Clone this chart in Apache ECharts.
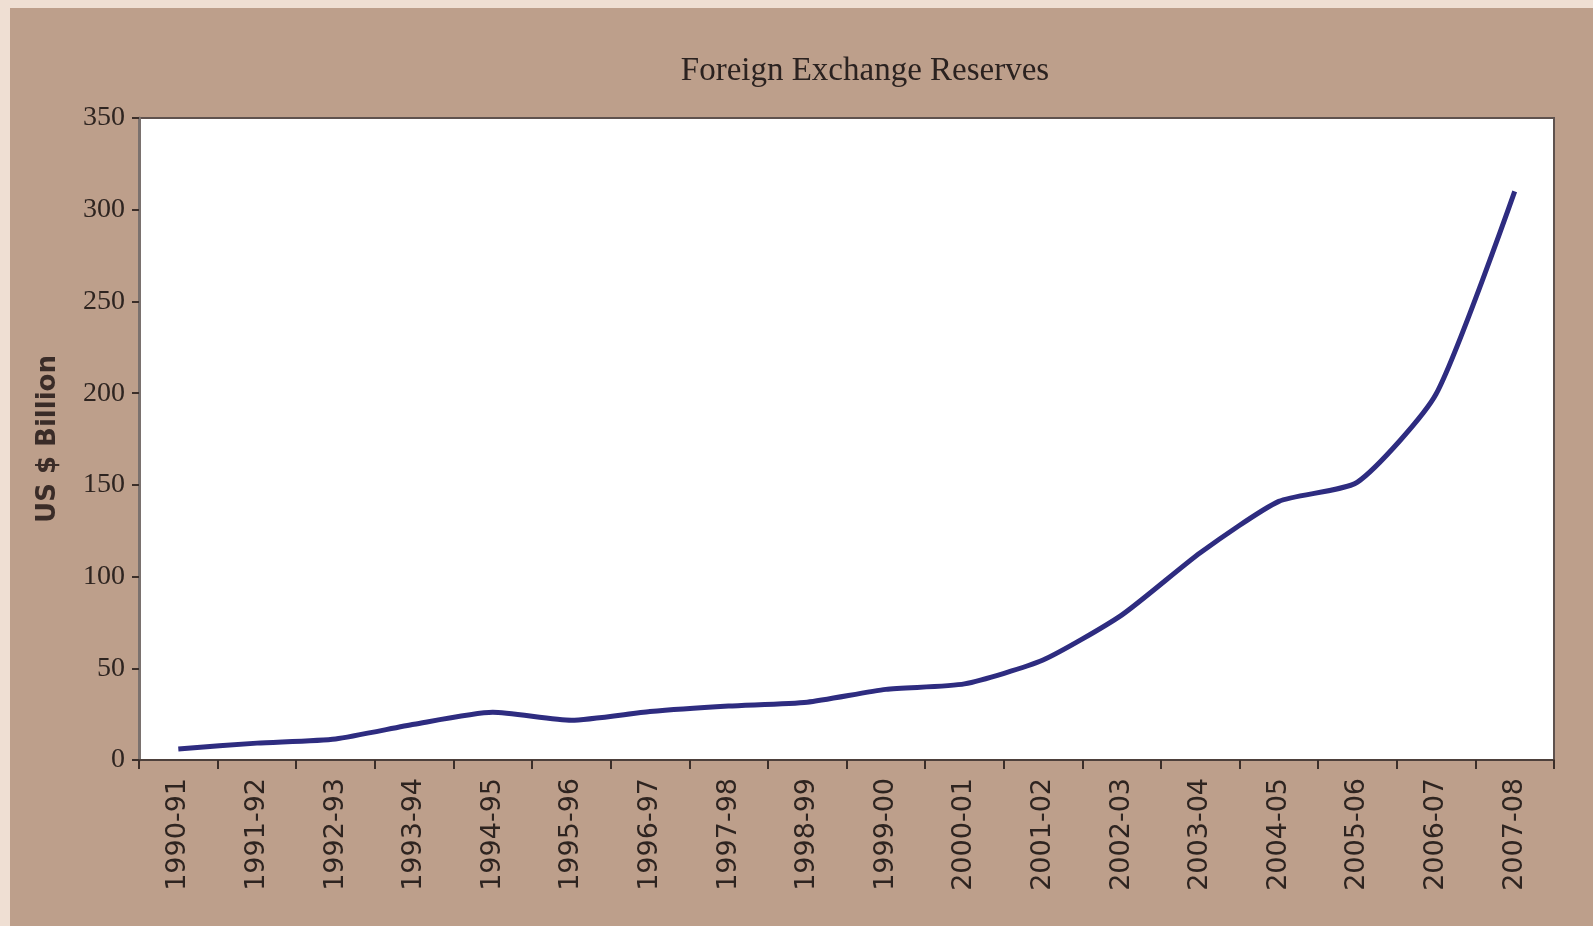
<!DOCTYPE html>
<html>
<head>
<meta charset="utf-8">
<title>Foreign Exchange Reserves</title>
<script src="https://cdn.jsdelivr.net/npm/echarts@6/dist/echarts.min.js"></script>
<style>
  html, body { margin: 0; padding: 0; background: #efdfd3; }
  #chart { position: absolute; left: 10px; top: 8px; width: 1583px; height: 918px; background: #bd9f8b; }
</style>
</head>
<body>
<div id="chart"></div>
<script>
// fiscal years
var years = ['1990-91', '1991-92', '1992-93', '1993-94', '1994-95', '1995-96', '1996-97',
  '1997-98', '1998-99', '1999-00', '2000-01', '2001-02', '2002-03', '2003-04', '2004-05',
  '2005-06', '2006-07', '2007-08'];
// reserves, US $ billion
var reserves = [6, 9.2, 11.5, 19.5, 26, 21.7, 26.4, 29.4, 31.5, 38.5, 41.5, 54.5, 79, 113, 141, 151.5, 199.5, 310];
var yTicks = [0, 50, 100, 150, 200, 250, 300, 350];

var chart = echarts.init(document.getElementById('chart'));
chart.setOption({
  animation: false,
  title: {
    text: 'Foreign Exchange Reserves',
    left: 850, top: 42, textAlign: 'center',
    textStyle: { fontFamily: 'Liberation Serif', fontSize: 33, fontWeight: 'normal', color: '#2b2220' }
  },
  grid: {
    left: 129, top: 110, right: 39, bottom: 166,
    show: true, backgroundColor: '#ffffff', borderColor: '#5f524e', borderWidth: 2
  },
  xAxis: {
    type: 'category',
    data: years,
    boundaryGap: true,
    axisLine: { lineStyle: { color: '#4d403b', width: 2 } },
    axisTick: { show: true, length: 9, lineStyle: { color: '#3b2e29', width: 2 } },
    axisLabel: {
      rotate: 90, margin: 18, interval: 0,
      fontFamily: 'DejaVu Sans', fontSize: 27, color: '#2e2420'
    }
  },
  yAxis: {
    type: 'value',
    min: yTicks[0], max: yTicks[yTicks.length - 1], interval: 50,
    name: 'US $ Billion',
    nameLocation: 'middle', nameGap: 78, nameRotate: 90,
    nameTextStyle: { fontFamily: 'DejaVu Sans', fontSize: 26, fontWeight: 'bold', color: '#3a2c28' },
    splitLine: { show: false },
    axisLine: { show: true, lineStyle: { color: '#7a716e', width: 3 } },
    axisTick: { show: true, length: 7, lineStyle: { color: '#3b2e29', width: 2 } },
    axisLabel: { margin: 14, fontFamily: 'Liberation Serif', fontSize: 28, color: '#2e2420' }
  },
  series: [{
    type: 'line',
    data: reserves,
    smooth: 0.2,
    symbol: 'none',
    lineStyle: { color: '#2e2c80', width: 5 }
  }]
});
</script>
</body>
</html>
